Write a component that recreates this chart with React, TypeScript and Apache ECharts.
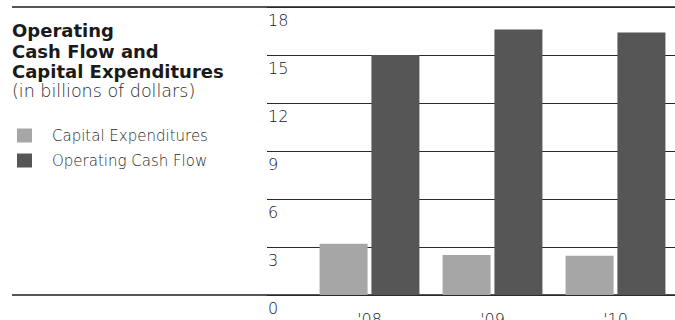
import React, { useEffect, useRef } from "react";
import * as echarts from "echarts";

// Fiscal years shown on the category axis
const years = ["'08", "'09", "'10"];

// Values in billions of dollars
const capitalExpenditures = [3.2, 2.5, 2.45];
const operatingCashFlow = [15.0, 16.6, 16.4];

// Value axis scale
const axisMin = 0;
const axisMax = 18;
const axisStep = 3;

const titleLines = ["Operating", "Cash Flow and", "Capital Expenditures"];
const subtitle = "(in billions of dollars)";
const seriesNames = ["Capital Expenditures", "Operating Cash Flow"];

const LIGHT = "#a6a6a6";
const DARK = "#565656";
const FONT = "'DejaVu Sans', Verdana, sans-serif";

export default function App() {
  const ref = useRef<HTMLDivElement>(null);

  useEffect(() => {
    if (!ref.current) return;
    const chart = echarts.init(ref.current, undefined, { renderer: "svg" });

    const plotTop = 7;
    const plotHeight = 288;

    const labelText = {
      fontFamily: FONT,
      fontWeight: 200,
      fontSize: 16,
      lineHeight: 16,
      color: "#1a1a1a",
    };

    chart.setOption({
      animation: false,
      backgroundColor: "#ffffff",
      title: [
        {
          text: titleLines.join("\n"),
          left: 12,
          top: 20.5,
          padding: 0,
          textStyle: {
            fontFamily: FONT,
            fontWeight: "bold",
            fontSize: 18,
            lineHeight: 20.5,
            color: "#1a1a1a",
          },
        },
        {
          text: subtitle,
          left: 12,
          top: 82.5,
          padding: 0,
          textStyle: {
            fontFamily: FONT,
            fontWeight: 200,
            fontSize: 17.5,
            lineHeight: 17,
            color: "#2a2a2a",
          },
        },
      ],
      legend: {
        data: seriesNames,
        orient: "vertical",
        left: 17,
        top: 128,
        padding: 0,
        icon: "rect",
        itemWidth: 15,
        itemHeight: 14,
        itemGap: 10,
        selectedMode: false,
        textStyle: {
          fontFamily: FONT,
          fontWeight: 200,
          fontSize: 15,
          lineHeight: 14,
          color: "#2a2a2a",
          padding: [0, 0, 0, 15],
        },
      },
      grid: [
        // full-width rules at the top and bottom of the scale
        { left: 12, right: 0, top: plotTop, height: plotHeight, outerBoundsMode: "none" },
        // horizontal gridlines with tick labels
        { left: 267, right: 0, top: plotTop, height: plotHeight, outerBoundsMode: "none" },
        // bar area
        { left: 308, width: 369, top: plotTop, height: plotHeight, outerBoundsMode: "none" },
      ],
      xAxis: [
        { type: "category", gridIndex: 0, data: [], show: false },
        { type: "category", gridIndex: 1, data: [], show: false },
        {
          type: "category",
          gridIndex: 2,
          data: years,
          axisLine: { show: false },
          axisTick: { show: false },
          axisLabel: { ...labelText, margin: 16 },
        },
      ],
      yAxis: [
        {
          type: "value",
          gridIndex: 0,
          min: axisMin,
          max: axisMax,
          interval: axisMax - axisMin,
          axisLine: { show: false },
          axisTick: { show: false },
          axisLabel: { show: false },
          splitLine: { lineStyle: { color: "#1e1e1e", width: 1.6 } },
        },
        {
          type: "value",
          gridIndex: 1,
          min: axisMin,
          max: axisMax,
          interval: axisStep,
          axisLine: { show: false },
          axisTick: { show: false },
          axisLabel: {
            ...labelText,
            inside: true,
            margin: 1,
            align: "left",
            verticalAlign: "top",
            padding: [5, 0, 0, 0],
          },
          splitLine: { lineStyle: { color: "#2a2a2a", width: 1.2 } },
        },
        {
          type: "value",
          gridIndex: 2,
          min: axisMin,
          max: axisMax,
          interval: axisStep,
          show: false,
          splitLine: { show: false },
        },
      ],
      series: [
        {
          name: seriesNames[0],
          type: "bar",
          xAxisIndex: 2,
          yAxisIndex: 2,
          data: capitalExpenditures,
          barWidth: 48,
          barGap: "8%",
          itemStyle: { color: LIGHT },
        },
        {
          name: seriesNames[1],
          type: "bar",
          xAxisIndex: 2,
          yAxisIndex: 2,
          data: operatingCashFlow,
          barWidth: 48,
          barGap: "8%",
          itemStyle: { color: DARK },
        },
      ],
    });

    return () => chart.dispose();
  }, []);

  return (
    <div
      ref={ref}
      style={{ position: "absolute", left: 0, top: 0, width: 675, height: 320 }}
    />
  );
}
